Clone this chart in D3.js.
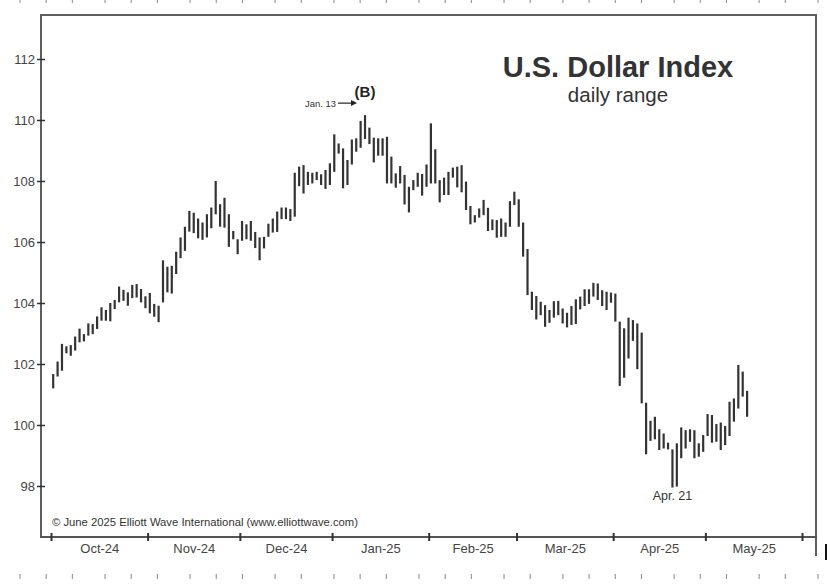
<!DOCTYPE html>
<html>
<head>
	<title>U.S. Dollar Index</title>
	<script src="https://d3js.org/d3.v7.min.js"></script>
	<style>
		body{margin:0; background:#fff;}
		body, text{font-family: 'Liberation Sans', Arial, sans-serif;}
		.tick text{fill:#444;}
	</style>
</head>
<body>
	<div class="chart"></div>
	<script>
		// daily high / low, one value per trading day (Oct-24 .. mid May-25)
		const highs = [
			101.67,102.08,102.66,102.58,102.62,102.90,103.16,102.98,103.33,103.31,103.56,103.86,103.77,104.00,104.10,104.54,104.43,104.35,104.59,104.62,104.46,104.22,
			104.33,103.97,103.91,105.40,105.19,105.22,105.68,106.15,106.50,107.02,106.96,106.77,106.64,106.91,107.13,108.00,107.24,107.45,106.91,106.36,
			106.09,106.69,106.58,106.69,106.33,106.15,106.17,106.60,106.77,107.00,107.13,107.13,107.08,108.27,108.47,108.52,108.30,108.27,108.30,108.22,108.36,108.58,
			109.53,109.23,109.07,108.69,109.36,109.40,109.97,110.16,109.75,109.42,109.40,109.40,109.45,108.80,108.25,108.49,108.20,107.81,108.03,108.27,108.23,108.54,
			109.89,109.04,108.03,108.11,108.30,108.44,108.47,108.52,107.98,107.18,106.88,107.10,107.38,107.12,106.74,106.72,106.77,106.64,107.34,107.65,
			107.40,106.64,105.77,104.37,104.23,104.04,103.93,103.77,104.06,104.07,103.82,103.68,103.90,104.12,104.21,104.45,104.45,104.66,104.64,104.42,104.37,104.34,
			104.31,103.39,103.17,103.52,103.44,103.33,103.03,100.73,100.14,100.27,99.86,99.72,99.42,99.20,99.40,99.92,99.83,99.86,99.83,99.40,99.67,
			100.36,100.33,100.03,100.08,99.97,100.76,100.87,101.97,101.75,101.12
		];
		const lows = [
			101.20,101.59,101.78,102.35,102.27,102.44,102.71,102.74,102.93,102.98,103.15,103.42,103.42,103.40,103.80,104.02,104.07,103.91,104.16,104.18,104.02,103.83,
			103.66,103.55,103.37,104.02,104.35,104.31,104.95,105.47,105.71,106.34,106.29,106.12,106.07,106.15,106.45,106.91,106.50,106.47,105.84,106.09,
			105.60,106.04,106.09,106.04,105.80,105.40,105.79,106.17,106.31,106.33,106.75,106.75,106.69,106.83,107.83,107.59,107.87,107.92,108.03,107.87,107.74,107.87,
			108.30,108.90,107.76,107.87,108.54,108.96,109.09,109.38,109.21,108.61,108.83,108.83,107.92,107.92,107.78,107.92,107.23,106.97,107.70,107.81,107.52,107.81,
			107.92,107.92,107.30,107.54,107.54,108.11,107.79,107.63,107.05,106.58,106.64,106.80,106.88,106.36,106.39,106.14,106.17,106.17,106.50,107.21,
			106.50,105.52,104.26,103.77,103.46,103.60,103.22,103.35,103.52,103.60,103.33,103.20,103.28,103.31,103.79,103.90,103.97,104.21,104.10,103.90,103.77,104.01,
			103.39,101.28,101.55,102.18,102.76,101.83,100.71,99.04,99.48,99.53,99.18,99.23,99.20,97.95,97.98,98.91,99.23,99.45,98.91,98.96,99.12,
			99.64,99.42,99.45,99.18,99.34,99.64,100.11,100.54,100.93,100.27
		];
		const months = ['Oct-24','Nov-24','Dec-24','Jan-25','Feb-25','Mar-25','Apr-25','May-25'];
		const monthDays = [22,21,21,22,20,22,21,22];
		const yTicks = [98,100,102,104,106,108,110,112];
		// spacing of the small ruler marks along the top and bottom edge of the scan
		const rulerGaps = [4,4,5,4,4,5,4,4,5,4,5,4,4,5,4,4,5,4,5,4,4,4,5,4,4,5,4,5];

		const bars = highs.map((h,i) => ({i:i, high:h, low:lows[i]}));
		const bounds = [0].concat(Array.from(d3.cumsum(monthDays))).map(d => d - 0.5);
		const mids = months.map((m,i) => (bounds[i] + bounds[i+1]) / 2);

		const svg = d3.select('.chart').append('svg').attr('width',830).attr('height',584)

		const x = d3.scaleLinear()
					.domain([bounds[0], bounds[bounds.length-1]])
					.range([51,802])
		const y = d3.scaleLinear()
					.domain([98,112])
					.range([486,59])

		// frame
		svg.append('path')
			.attr('d','M41,537 L41,15 L816,15 L816,556')
			.attr('fill','none').attr('stroke','#5e5e5e').attr('stroke-width',2)
		svg.append('line').attr('x1',40).attr('x2',817).attr('y1',537).attr('y2',537)
			.attr('stroke','#555').attr('stroke-width',2)
		svg.append('line').attr('x1',826).attr('x2',826).attr('y1',544).attr('y2',560)
			.attr('stroke','#111').attr('stroke-width',2)

		// ruler marks
		const rulerPos = [0].concat(Array.from(d3.cumsum(rulerGaps)));
		const rx = d3.scaleLinear().domain([0, d3.sum(rulerGaps)]).range([20,818])
		svg.append('g').selectAll('line').data(rulerPos).join('line')
			.attr('x1',d => rx(d)).attr('x2',d => rx(d)).attr('y1',0).attr('y2',3)
			.attr('stroke','#888').attr('stroke-width',1)
		svg.append('g').selectAll('line').data(rulerPos).join('line')
			.attr('x1',d => rx(d)).attr('x2',d => rx(d)).attr('y1',574).attr('y2',579)
			.attr('stroke','#888').attr('stroke-width',1)

		// y axis
		const yAxis = svg.append('g').attr('transform','translate(41,0)')
			.call(d3.axisLeft(y).tickValues(yTicks).tickSize(4).tickPadding(2))
		yAxis.select('.domain').remove();
		yAxis.selectAll('.tick line').attr('x1',4).attr('x2',-4).attr('stroke','#333').attr('stroke-width',1.5)
		yAxis.selectAll('.tick text').attr('font-size',13).attr('font-family','Liberation Sans, Arial, sans-serif')

		// x axis: month boundaries and labels
		const xTicks = svg.append('g').attr('transform','translate(0,537)')
			.call(d3.axisBottom(x).tickValues(bounds).tickFormat('').tickSize(4))
		xTicks.select('.domain').remove();
		xTicks.selectAll('.tick line').attr('y1',-4).attr('y2',4).attr('stroke','#333').attr('stroke-width',2)

		const xLabels = svg.append('g').attr('transform','translate(0,537)')
			.call(d3.axisBottom(x).tickValues(mids).tickFormat((d,i) => months[i]).tickSize(0).tickPadding(7))
		xLabels.select('.domain').remove();
		xLabels.selectAll('.tick text').attr('font-size',13).attr('fill','#555').attr('font-family','Liberation Sans, Arial, sans-serif')

		// daily range bars
		svg.append('g').selectAll('line').data(bars).join('line')
			.attr('x1',d => x(d.i)).attr('x2',d => x(d.i))
			.attr('y1',d => y(d.high)).attr('y2',d => y(d.low))
			.attr('stroke','#333').attr('stroke-width',2.2)

		// titles
		svg.append('text').attr('x',618).attr('y',77).attr('text-anchor','middle')
			.attr('font-size',29).attr('font-weight','bold').attr('fill','#333').text('U.S. Dollar Index')
		svg.append('text').attr('x',618).attr('y',102).attr('text-anchor','middle')
			.attr('font-size',20.5).attr('fill','#333').text('daily range')

		// annotations
		const peakIdx = d3.maxIndex(highs);
		const lowIdx = d3.minIndex(lows);
		const bx = x(peakIdx), by = y(highs[peakIdx]) - 18;
		svg.append('text').attr('x',bx).attr('y',by).attr('text-anchor','middle')
			.attr('font-size',15).attr('font-weight','bold').attr('fill','#222').text('(B)')
		svg.append('line').attr('x1',bx-27).attr('x2',bx-13).attr('y1',by+6).attr('y2',by+6)
			.attr('stroke','#222').attr('stroke-width',1.2)
		svg.append('path').attr('d',`M${bx-8},${by+6} L${bx-14},${by+3} L${bx-14},${by+9} Z`).attr('fill','#222')
		svg.append('text').attr('x',bx-29).attr('y',by+9.5).attr('text-anchor','end')
			.attr('font-size',9.5).attr('fill','#333').attr('textLength',31).attr('lengthAdjust','spacingAndGlyphs').text('Jan. 13')
		svg.append('text').attr('x',x(lowIdx)).attr('y',y(lows[lowIdx])+12).attr('text-anchor','middle')
			.attr('font-size',12.5).attr('fill','#333').text('Apr. 21')

		svg.append('text').attr('x',52).attr('y',526).attr('font-size',10.5).attr('fill','#333')
			.attr('textLength',306).attr('lengthAdjust','spacingAndGlyphs')
			.text('\u00a9 June 2025 Elliott Wave International (www.elliottwave.com)')
	</script>
</body>
</html>
